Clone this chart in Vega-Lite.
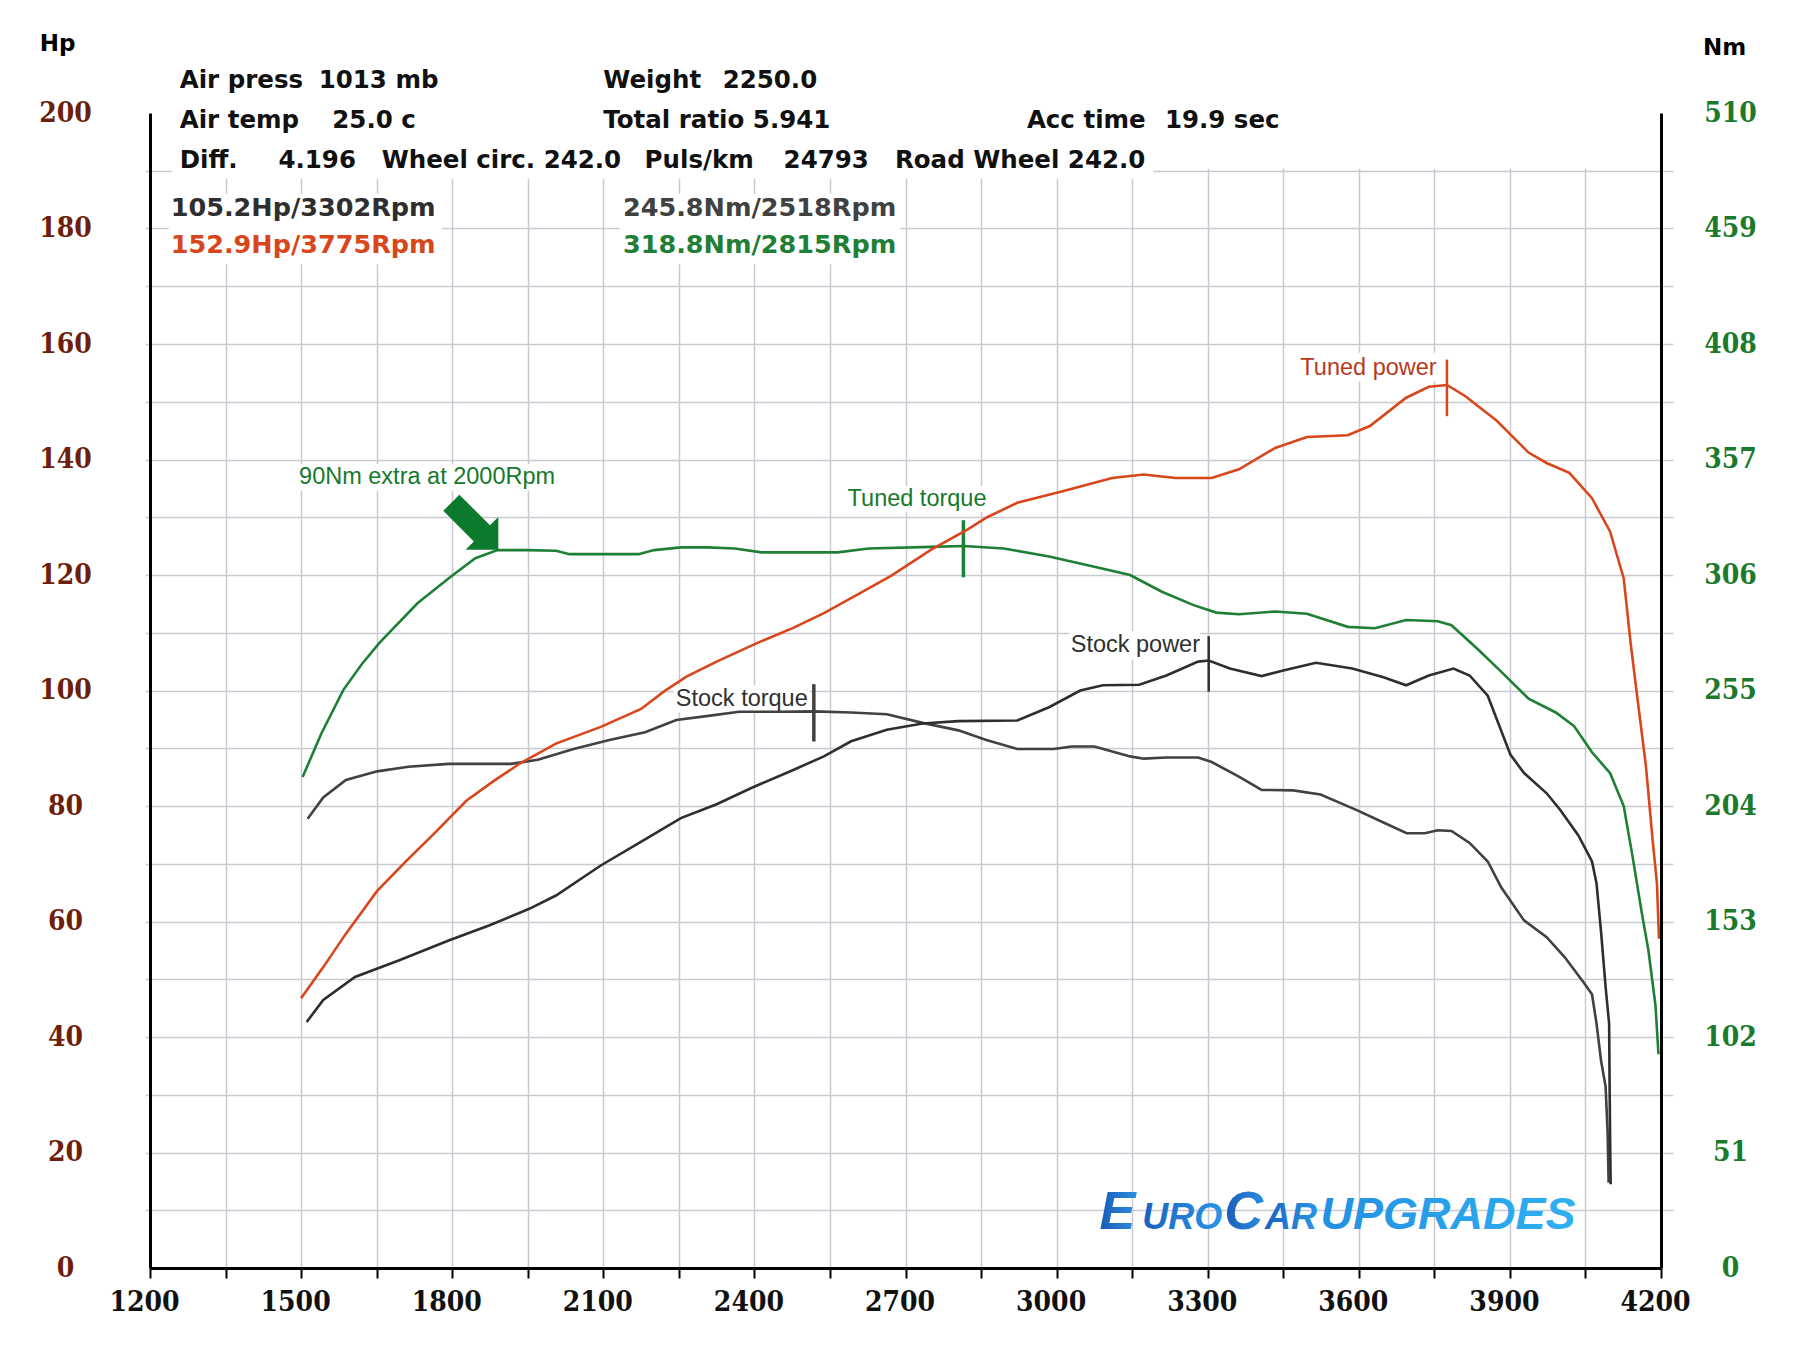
{
  "$schema": "https://vega.github.io/schema/vega-lite/v6.json",
  "width": 1511,
  "height": 1155,
  "autosize": "none",
  "padding": {"left": 150, "top": 113, "right": 139, "bottom": 84},
  "background": "#ffffff",
  "config": {"view": {"stroke": null}},
  "datasets": {
    "boxes": [
      {"rpm": 1200, "rpm2": 4200, "hp": 190.35, "hp2": 200},
      {"rpm": 1243, "rpm2": 3192, "hp": 188.6, "hp2": 200},
      {"rpm": 1237, "rpm2": 1779, "hp": 173.8, "hp2": 186},
      {"rpm": 2132, "rpm2": 2690, "hp": 173.8, "hp2": 186},
      {"rpm": 3480, "rpm2": 3757, "hp": 153.5, "hp2": 158.5},
      {"rpm": 3025, "rpm2": 3285, "hp": 105.3, "hp2": 110.3},
      {"rpm": 2240, "rpm2": 2510, "hp": 96.2, "hp2": 100.9},
      {"rpm": 2582, "rpm2": 2866, "hp": 130.9, "hp2": 135.4},
      {"rpm": 1493, "rpm2": 2012, "hp": 134.6, "hp2": 139.2}
    ],
    "power": [
      {"series": "Tuned power", "rpm": 1500, "hp": 46.7},
      {"series": "Tuned power", "rpm": 1544, "hp": 52.1},
      {"series": "Tuned power", "rpm": 1589, "hp": 57.9},
      {"series": "Tuned power", "rpm": 1651, "hp": 65.3},
      {"series": "Tuned power", "rpm": 1709, "hp": 70.5},
      {"series": "Tuned power", "rpm": 1766, "hp": 75.4},
      {"series": "Tuned power", "rpm": 1828, "hp": 80.9},
      {"series": "Tuned power", "rpm": 1882, "hp": 84.3},
      {"series": "Tuned power", "rpm": 1935, "hp": 87.4},
      {"series": "Tuned power", "rpm": 2006, "hp": 90.8},
      {"series": "Tuned power", "rpm": 2095, "hp": 93.7},
      {"series": "Tuned power", "rpm": 2175, "hp": 96.8},
      {"series": "Tuned power", "rpm": 2220, "hp": 99.8},
      {"series": "Tuned power", "rpm": 2265, "hp": 102.4},
      {"series": "Tuned power", "rpm": 2325, "hp": 105.0},
      {"series": "Tuned power", "rpm": 2405, "hp": 108.2},
      {"series": "Tuned power", "rpm": 2476, "hp": 110.8},
      {"series": "Tuned power", "rpm": 2538, "hp": 113.4},
      {"series": "Tuned power", "rpm": 2609, "hp": 116.8},
      {"series": "Tuned power", "rpm": 2672, "hp": 119.9},
      {"series": "Tuned power", "rpm": 2751, "hp": 124.4},
      {"series": "Tuned power", "rpm": 2822, "hp": 127.8},
      {"series": "Tuned power", "rpm": 2862, "hp": 130.0},
      {"series": "Tuned power", "rpm": 2922, "hp": 132.5},
      {"series": "Tuned power", "rpm": 3012, "hp": 134.5},
      {"series": "Tuned power", "rpm": 3110, "hp": 136.8},
      {"series": "Tuned power", "rpm": 3173, "hp": 137.4},
      {"series": "Tuned power", "rpm": 3236, "hp": 136.8},
      {"series": "Tuned power", "rpm": 3308, "hp": 136.8},
      {"series": "Tuned power", "rpm": 3362, "hp": 138.3},
      {"series": "Tuned power", "rpm": 3434, "hp": 142.0},
      {"series": "Tuned power", "rpm": 3497, "hp": 143.9},
      {"series": "Tuned power", "rpm": 3578, "hp": 144.2},
      {"series": "Tuned power", "rpm": 3622, "hp": 145.8},
      {"series": "Tuned power", "rpm": 3694, "hp": 150.7},
      {"series": "Tuned power", "rpm": 3739, "hp": 152.6},
      {"series": "Tuned power", "rpm": 3775, "hp": 152.9},
      {"series": "Tuned power", "rpm": 3811, "hp": 151.0},
      {"series": "Tuned power", "rpm": 3874, "hp": 146.7},
      {"series": "Tuned power", "rpm": 3937, "hp": 141.2},
      {"series": "Tuned power", "rpm": 3973, "hp": 139.4},
      {"series": "Tuned power", "rpm": 4018, "hp": 137.7},
      {"series": "Tuned power", "rpm": 4063, "hp": 133.3},
      {"series": "Tuned power", "rpm": 4099, "hp": 127.5},
      {"series": "Tuned power", "rpm": 4126, "hp": 119.4},
      {"series": "Tuned power", "rpm": 4140, "hp": 108.0},
      {"series": "Tuned power", "rpm": 4152, "hp": 99.5},
      {"series": "Tuned power", "rpm": 4170, "hp": 87.0},
      {"series": "Tuned power", "rpm": 4183, "hp": 74.5},
      {"series": "Tuned power", "rpm": 4192, "hp": 66.5},
      {"series": "Tuned power", "rpm": 4196, "hp": 57.0},
      {"series": "Stock power", "rpm": 1511, "hp": 42.6},
      {"series": "Stock power", "rpm": 1544, "hp": 46.4},
      {"series": "Stock power", "rpm": 1607, "hp": 50.4},
      {"series": "Stock power", "rpm": 1695, "hp": 53.3},
      {"series": "Stock power", "rpm": 1793, "hp": 56.7},
      {"series": "Stock power", "rpm": 1873, "hp": 59.3},
      {"series": "Stock power", "rpm": 1953, "hp": 62.2},
      {"series": "Stock power", "rpm": 2006, "hp": 64.5},
      {"series": "Stock power", "rpm": 2095, "hp": 69.7},
      {"series": "Stock power", "rpm": 2183, "hp": 74.2},
      {"series": "Stock power", "rpm": 2254, "hp": 77.9},
      {"series": "Stock power", "rpm": 2325, "hp": 80.3},
      {"series": "Stock power", "rpm": 2396, "hp": 83.2},
      {"series": "Stock power", "rpm": 2476, "hp": 86.2},
      {"series": "Stock power", "rpm": 2538, "hp": 88.6},
      {"series": "Stock power", "rpm": 2592, "hp": 91.2},
      {"series": "Stock power", "rpm": 2663, "hp": 93.2},
      {"series": "Stock power", "rpm": 2734, "hp": 94.3},
      {"series": "Stock power", "rpm": 2805, "hp": 94.7},
      {"series": "Stock power", "rpm": 2922, "hp": 94.8},
      {"series": "Stock power", "rpm": 2985, "hp": 97.1},
      {"series": "Stock power", "rpm": 3047, "hp": 100.0},
      {"series": "Stock power", "rpm": 3092, "hp": 100.9},
      {"series": "Stock power", "rpm": 3164, "hp": 101.0},
      {"series": "Stock power", "rpm": 3218, "hp": 102.6},
      {"series": "Stock power", "rpm": 3281, "hp": 105.0},
      {"series": "Stock power", "rpm": 3302, "hp": 105.2},
      {"series": "Stock power", "rpm": 3344, "hp": 103.8},
      {"series": "Stock power", "rpm": 3407, "hp": 102.5},
      {"series": "Stock power", "rpm": 3452, "hp": 103.5},
      {"series": "Stock power", "rpm": 3515, "hp": 104.8},
      {"series": "Stock power", "rpm": 3587, "hp": 103.8},
      {"series": "Stock power", "rpm": 3649, "hp": 102.3},
      {"series": "Stock power", "rpm": 3694, "hp": 100.9},
      {"series": "Stock power", "rpm": 3739, "hp": 102.6},
      {"series": "Stock power", "rpm": 3788, "hp": 103.8},
      {"series": "Stock power", "rpm": 3820, "hp": 102.6},
      {"series": "Stock power", "rpm": 3856, "hp": 99.1},
      {"series": "Stock power", "rpm": 3901, "hp": 88.9},
      {"series": "Stock power", "rpm": 3928, "hp": 85.7},
      {"series": "Stock power", "rpm": 3973, "hp": 82.2},
      {"series": "Stock power", "rpm": 4000, "hp": 79.3},
      {"series": "Stock power", "rpm": 4036, "hp": 74.9},
      {"series": "Stock power", "rpm": 4063, "hp": 70.4},
      {"series": "Stock power", "rpm": 4072, "hp": 66.6},
      {"series": "Stock power", "rpm": 4081, "hp": 58.2},
      {"series": "Stock power", "rpm": 4090, "hp": 48.7},
      {"series": "Stock power", "rpm": 4097, "hp": 42.3},
      {"series": "Stock power", "rpm": 4098, "hp": 31.4},
      {"series": "Stock power", "rpm": 4099, "hp": 22.0},
      {"series": "Stock power", "rpm": 4100, "hp": 14.5}
    ],
    "torque": [
      {"series": "Tuned torque", "rpm": 1503, "nm": 216.8},
      {"series": "Tuned torque", "rpm": 1540, "nm": 235.9},
      {"series": "Tuned torque", "rpm": 1584, "nm": 255.3},
      {"series": "Tuned torque", "rpm": 1620, "nm": 266.5},
      {"series": "Tuned torque", "rpm": 1655, "nm": 275.9},
      {"series": "Tuned torque", "rpm": 1731, "nm": 293.5},
      {"series": "Tuned torque", "rpm": 1797, "nm": 305.2},
      {"series": "Tuned torque", "rpm": 1846, "nm": 313.4},
      {"series": "Tuned torque", "rpm": 1890, "nm": 317.0},
      {"series": "Tuned torque", "rpm": 1950, "nm": 317.0},
      {"series": "Tuned torque", "rpm": 2006, "nm": 316.7},
      {"series": "Tuned torque", "rpm": 2033, "nm": 315.2},
      {"series": "Tuned torque", "rpm": 2170, "nm": 315.2},
      {"series": "Tuned torque", "rpm": 2201, "nm": 317.0},
      {"series": "Tuned torque", "rpm": 2254, "nm": 318.2},
      {"series": "Tuned torque", "rpm": 2308, "nm": 318.2},
      {"series": "Tuned torque", "rpm": 2361, "nm": 317.7},
      {"series": "Tuned torque", "rpm": 2414, "nm": 316.0},
      {"series": "Tuned torque", "rpm": 2565, "nm": 316.0},
      {"series": "Tuned torque", "rpm": 2627, "nm": 317.7},
      {"series": "Tuned torque", "rpm": 2751, "nm": 318.4},
      {"series": "Tuned torque", "rpm": 2815, "nm": 318.8},
      {"series": "Tuned torque", "rpm": 2895, "nm": 317.7},
      {"series": "Tuned torque", "rpm": 2985, "nm": 314.2},
      {"series": "Tuned torque", "rpm": 3075, "nm": 309.6},
      {"series": "Tuned torque", "rpm": 3146, "nm": 306.0},
      {"series": "Tuned torque", "rpm": 3209, "nm": 298.6},
      {"series": "Tuned torque", "rpm": 3272, "nm": 292.7},
      {"series": "Tuned torque", "rpm": 3317, "nm": 289.4},
      {"series": "Tuned torque", "rpm": 3362, "nm": 288.7},
      {"series": "Tuned torque", "rpm": 3434, "nm": 289.9},
      {"series": "Tuned torque", "rpm": 3497, "nm": 288.9},
      {"series": "Tuned torque", "rpm": 3578, "nm": 283.1},
      {"series": "Tuned torque", "rpm": 3632, "nm": 282.5},
      {"series": "Tuned torque", "rpm": 3694, "nm": 286.1},
      {"series": "Tuned torque", "rpm": 3757, "nm": 285.6},
      {"series": "Tuned torque", "rpm": 3784, "nm": 283.8},
      {"series": "Tuned torque", "rpm": 3838, "nm": 272.9},
      {"series": "Tuned torque", "rpm": 3883, "nm": 263.2},
      {"series": "Tuned torque", "rpm": 3937, "nm": 251.4},
      {"series": "Tuned torque", "rpm": 3991, "nm": 245.3},
      {"series": "Tuned torque", "rpm": 4027, "nm": 239.4},
      {"series": "Tuned torque", "rpm": 4063, "nm": 227.7},
      {"series": "Tuned torque", "rpm": 4099, "nm": 218.5},
      {"series": "Tuned torque", "rpm": 4126, "nm": 204.0},
      {"series": "Tuned torque", "rpm": 4144, "nm": 181.1},
      {"series": "Tuned torque", "rpm": 4162, "nm": 156.6},
      {"series": "Tuned torque", "rpm": 4175, "nm": 140.3},
      {"series": "Tuned torque", "rpm": 4189, "nm": 116.0},
      {"series": "Tuned torque", "rpm": 4195, "nm": 94.4},
      {"series": "Stock torque", "rpm": 1513, "nm": 198.4},
      {"series": "Stock torque", "rpm": 1544, "nm": 207.8},
      {"series": "Stock torque", "rpm": 1589, "nm": 215.5},
      {"series": "Stock torque", "rpm": 1651, "nm": 219.3},
      {"series": "Stock torque", "rpm": 1713, "nm": 221.3},
      {"series": "Stock torque", "rpm": 1793, "nm": 222.6},
      {"series": "Stock torque", "rpm": 1917, "nm": 222.6},
      {"series": "Stock torque", "rpm": 1970, "nm": 224.4},
      {"series": "Stock torque", "rpm": 2041, "nm": 229.2},
      {"series": "Stock torque", "rpm": 2112, "nm": 233.1},
      {"series": "Stock torque", "rpm": 2183, "nm": 236.6},
      {"series": "Stock torque", "rpm": 2245, "nm": 242.0},
      {"series": "Stock torque", "rpm": 2316, "nm": 244.0},
      {"series": "Stock torque", "rpm": 2370, "nm": 245.6},
      {"series": "Stock torque", "rpm": 2450, "nm": 245.6},
      {"series": "Stock torque", "rpm": 2518, "nm": 245.8},
      {"series": "Stock torque", "rpm": 2592, "nm": 245.3},
      {"series": "Stock torque", "rpm": 2663, "nm": 244.5},
      {"series": "Stock torque", "rpm": 2734, "nm": 240.7},
      {"series": "Stock torque", "rpm": 2805, "nm": 237.4},
      {"series": "Stock torque", "rpm": 2859, "nm": 233.3},
      {"series": "Stock torque", "rpm": 2922, "nm": 229.2},
      {"series": "Stock torque", "rpm": 2994, "nm": 229.2},
      {"series": "Stock torque", "rpm": 3030, "nm": 230.3},
      {"series": "Stock torque", "rpm": 3075, "nm": 230.3},
      {"series": "Stock torque", "rpm": 3146, "nm": 225.9},
      {"series": "Stock torque", "rpm": 3173, "nm": 224.9},
      {"series": "Stock torque", "rpm": 3218, "nm": 225.4},
      {"series": "Stock torque", "rpm": 3281, "nm": 225.4},
      {"series": "Stock torque", "rpm": 3308, "nm": 223.4},
      {"series": "Stock torque", "rpm": 3362, "nm": 217.0},
      {"series": "Stock torque", "rpm": 3407, "nm": 211.1},
      {"series": "Stock torque", "rpm": 3470, "nm": 210.9},
      {"series": "Stock torque", "rpm": 3524, "nm": 209.1},
      {"series": "Stock torque", "rpm": 3596, "nm": 202.2},
      {"series": "Stock torque", "rpm": 3650, "nm": 196.6},
      {"series": "Stock torque", "rpm": 3695, "nm": 192.0},
      {"series": "Stock torque", "rpm": 3731, "nm": 192.0},
      {"series": "Stock torque", "rpm": 3757, "nm": 193.3},
      {"series": "Stock torque", "rpm": 3784, "nm": 193.0},
      {"series": "Stock torque", "rpm": 3820, "nm": 187.7},
      {"series": "Stock torque", "rpm": 3856, "nm": 179.5},
      {"series": "Stock torque", "rpm": 3883, "nm": 168.0},
      {"series": "Stock torque", "rpm": 3928, "nm": 153.5},
      {"series": "Stock torque", "rpm": 3973, "nm": 146.1},
      {"series": "Stock torque", "rpm": 4009, "nm": 137.2},
      {"series": "Stock torque", "rpm": 4045, "nm": 126.5},
      {"series": "Stock torque", "rpm": 4063, "nm": 120.9},
      {"series": "Stock torque", "rpm": 4072, "nm": 107.9},
      {"series": "Stock torque", "rpm": 4081, "nm": 91.5},
      {"series": "Stock torque", "rpm": 4090, "nm": 80.1},
      {"series": "Stock torque", "rpm": 4094, "nm": 60.0},
      {"series": "Stock torque", "rpm": 4096, "nm": 37.7}
    ],
    "powerPeaks": [
      {"series": "Tuned power", "rpm": 3775, "hp": 147.5, "hp2": 157.3},
      {"series": "Stock power", "rpm": 3302, "hp": 99.8, "hp2": 109.4}
    ],
    "torquePeaks": [
      {"series": "Tuned torque", "rpm": 2815, "nm": 305.0, "nm2": 330.2},
      {"series": "Stock torque", "rpm": 2518, "nm": 232.5, "nm2": 257.8}
    ],
    "header": [
      {"rpm": 1259, "hp": 205.6, "label": "Air press"},
      {"rpm": 1535, "hp": 205.6, "label": "1013 mb"},
      {"rpm": 2100, "hp": 205.6, "label": "Weight"},
      {"rpm": 2337, "hp": 205.6, "label": "2250.0"},
      {"rpm": 1259, "hp": 198.7, "label": "Air temp"},
      {"rpm": 1562, "hp": 198.7, "label": "25.0 c"},
      {"rpm": 2100, "hp": 198.7, "label": "Total ratio 5.941"},
      {"rpm": 2941, "hp": 198.7, "label": "Acc time"},
      {"rpm": 3215, "hp": 198.7, "label": "19.9 sec"},
      {"rpm": 1259, "hp": 191.7, "label": "Diff."},
      {"rpm": 1455, "hp": 191.7, "label": "4.196"},
      {"rpm": 1660, "hp": 191.7, "label": "Wheel circ. 242.0"},
      {"rpm": 2182, "hp": 191.7, "label": "Puls/km"},
      {"rpm": 2458, "hp": 191.7, "label": "24793"},
      {"rpm": 2679, "hp": 191.7, "label": "Road Wheel 242.0"}
    ],
    "peakLabels": [
      {"series": "Stock power", "rpm": 1241, "hp": 183.6, "label": "105.2Hp/3302Rpm"},
      {"series": "Tuned power", "rpm": 1241, "hp": 177.2, "label": "152.9Hp/3775Rpm"},
      {"series": "Stock torque", "rpm": 2139, "hp": 183.6, "label": "245.8Nm/2518Rpm"},
      {"series": "Tuned torque", "rpm": 2139, "hp": 177.2, "label": "318.8Nm/2815Rpm"}
    ],
    "notes": [
      {"series": "Tuned power", "rpm": 3484, "hp": 155.9, "label": "Tuned power"},
      {"series": "Stock power", "rpm": 3028, "hp": 107.8, "label": "Stock power"},
      {"series": "Stock torque", "rpm": 2244, "hp": 98.5, "label": "Stock torque"},
      {"series": "Tuned torque", "rpm": 2585, "hp": 133.1, "label": "Tuned torque"},
      {"series": "Tuned torque", "rpm": 1496, "hp": 136.9, "label": "90Nm extra at 2000Rpm"}
    ],
    "arrow": [{"rpm": 1835, "hp": 129.3}],
    "logoCaps": [
      {"rpm": 3085, "hp": 6.7, "label": "E"},
      {"rpm": 3333, "hp": 6.7, "label": "C"}
    ],
    "logoSmall": [
      {"rpm": 3170, "hp": 6.7, "label": "URO"},
      {"rpm": 3414, "hp": 6.7, "label": "AR"}
    ],
    "logoTail": [
      {"rpm": 3524, "hp": 6.7, "label": "UPGRADES"}
    ]
  },
  "layer": [
    {
      "data": {"name": "boxes"},
      "mark": {"type": "rect", "fill": "#ffffff", "stroke": null},
      "encoding": {
        "x": {
          "field": "rpm", "type": "quantitative",
          "scale": {"domain": [1200, 4200], "nice": false, "zero": false},
          "axis": {
            "orient": "bottom", "zindex": 0, "title": null,
            "values": [1350, 1500, 1650, 1800, 1950, 2100, 2250, 2400, 2550, 2700, 2850, 3000, 3150, 3300, 3450, 3600, 3750, 3900, 4050],
            "grid": true, "gridColor": "#c9c9d2", "gridWidth": 1.5,
            "domain": false, "ticks": false, "labels": false
          }
        },
        "x2": {"field": "rpm2"},
        "y": {
          "field": "hp", "type": "quantitative",
          "scale": {"domain": [0, 200], "nice": false, "zero": true},
          "axis": {
            "orient": "left", "zindex": 0, "title": null,
            "values": [10, 20, 30, 40, 50, 60, 70, 80, 90, 100, 110, 120, 130, 140, 150, 160, 170, 180, 190],
            "grid": true, "gridColor": "#c9c9d2", "gridWidth": 1.5,
            "domain": false, "ticks": true, "tickColor": "#c9c9d2", "tickWidth": 1.5, "tickSize": 5,
            "labels": false
          }
        },
        "y2": {"field": "hp2"}
      }
    },
    {
      "encoding": {
        "x": {
          "field": "rpm", "type": "quantitative",
          "scale": {"domain": [1200, 4200], "nice": false, "zero": false},
          "axis": null
        },
        "y": {
          "field": "nm", "type": "quantitative",
          "scale": {"domain": [0, 510], "nice": false, "zero": true},
          "axis": {
            "orient": "right", "zindex": 1,
            "values": [0, 25.5, 51, 76.5, 102, 127.5, 153, 178.5, 204, 229.5, 255, 280.5, 306, 331.5, 357, 382.5, 408, 433.5, 459, 484.5, 510],
            "grid": false,
            "domain": true, "domainColor": "#000000", "domainWidth": 3,
            "ticks": true, "tickColor": "#c9c9d2", "tickWidth": 1.5, "tickSize": 12,
            "tickOpacity": {"condition": {"test": "datum.value === 0 || datum.value === 510", "value": 0}, "value": 1},
            "labelExpr": "datum.value % 51 === 0 ? format(datum.value, 'd') : ''",
            "labelFont": "'DejaVu Serif Condensed', 'DejaVu Serif', serif",
            "labelFontSize": 28, "labelFontWeight": "bold", "labelColor": "#1b7a2b",
            "labelAlign": "center", "labelBaseline": "middle", "labelPadding": 57,
            "labelFlush": false, "labelOverlap": false,
            "title": "Nm", "titleAngle": 0, "titleX": 63, "titleY": -66,
            "titleAlign": "center", "titleBaseline": "middle",
            "titleFont": "DejaVu Sans", "titleFontSize": 23, "titleFontWeight": "bold", "titleColor": "#000000"
          }
        }
      },
      "layer": [
        {
          "data": {"name": "torque"},
          "mark": {"type": "line", "strokeWidth": 2.6},
          "encoding": {
            "color": {
              "field": "series", "type": "nominal", "legend": null,
              "scale": {"domain": ["Tuned power", "Tuned torque", "Stock power", "Stock torque"], "range": ["#d8461b", "#1f7f35", "#2e2e2e", "#414141"]}
            }
          }
        },
        {
          "data": {"name": "torquePeaks"},
          "mark": {"type": "rule", "strokeWidth": 3.5},
          "encoding": {
            "y2": {"field": "nm2"},
            "color": {
              "field": "series", "type": "nominal", "legend": null,
              "scale": {"domain": ["Tuned power", "Tuned torque", "Stock power", "Stock torque"], "range": ["#d8461b", "#1f7f35", "#2e2e2e", "#414141"]}
            }
          }
        }
      ]
    },
    {
      "encoding": {
        "x": {
          "field": "rpm", "type": "quantitative",
          "scale": {"domain": [1200, 4200], "nice": false, "zero": false},
          "axis": {
            "orient": "bottom", "zindex": 1, "title": null, "format": "d",
            "values": [1200, 1350, 1500, 1650, 1800, 1950, 2100, 2250, 2400, 2550, 2700, 2850, 3000, 3150, 3300, 3450, 3600, 3750, 3900, 4050, 4200],
            "grid": false,
            "domain": true, "domainColor": "#000000", "domainWidth": 3,
            "ticks": true, "tickColor": "#000000", "tickWidth": 2, "tickSize": 10,
            "labelExpr": "datum.value % 300 === 0 ? datum.label : ''",
            "labelFont": "'DejaVu Serif Condensed', 'DejaVu Serif', serif",
            "labelFontSize": 28, "labelFontWeight": "bold", "labelColor": "#111111",
            "labelPadding": 10, "labelOffset": -6,
            "labelFlush": false, "labelOverlap": false
          }
        },
        "y": {
          "field": "hp", "type": "quantitative",
          "scale": {"domain": [0, 200], "nice": false, "zero": true},
          "axis": {
            "orient": "left", "zindex": 1,
            "values": [0, 20, 40, 60, 80, 100, 120, 140, 160, 180, 200],
            "grid": false,
            "domain": true, "domainColor": "#000000", "domainWidth": 3,
            "ticks": true, "tickSize": 0, "tickOpacity": 0,
            "labelFont": "'DejaVu Serif Condensed', 'DejaVu Serif', serif",
            "labelFontSize": 28, "labelFontWeight": "bold", "labelColor": "#6e1f0c",
            "labelAlign": "center", "labelBaseline": "middle", "labelPadding": 85,
            "labelFlush": false, "labelOverlap": false,
            "title": "Hp", "titleAngle": 0, "titleX": -93, "titleY": -70,
            "titleAlign": "center", "titleBaseline": "middle",
            "titleFont": "DejaVu Sans", "titleFontSize": 23, "titleFontWeight": "bold", "titleColor": "#000000"
          }
        }
      },
      "layer": [
        {
          "data": {"name": "power"},
          "mark": {"type": "line", "strokeWidth": 2.6},
          "encoding": {
            "color": {
              "field": "series", "type": "nominal", "legend": null,
              "scale": {"domain": ["Tuned power", "Tuned torque", "Stock power", "Stock torque"], "range": ["#d8461b", "#1f7f35", "#2e2e2e", "#414141"]}
            }
          }
        },
        {
          "data": {"name": "powerPeaks"},
          "mark": {"type": "rule", "strokeWidth": 2.5},
          "encoding": {
            "y2": {"field": "hp2"},
            "color": {
              "field": "series", "type": "nominal", "legend": null,
              "scale": {"domain": ["Tuned power", "Tuned torque", "Stock power", "Stock torque"], "range": ["#d8461b", "#1f7f35", "#2e2e2e", "#414141"]}
            }
          }
        },
        {
          "data": {"name": "arrow"},
          "mark": {
            "type": "point", "filled": true, "color": "#0c7a2c", "opacity": 1, "strokeWidth": 0,
            "size": 3249,
            "shape": "M1,1L1,-0.15L0.708,0.142L-0.367,-0.933L-0.933,-0.367L0.142,0.708L-0.15,1Z"
          }
        },
        {
          "data": {"name": "header"},
          "mark": {"type": "text", "align": "left", "baseline": "middle", "font": "DejaVu Sans", "fontSize": 24.5, "fontWeight": "bold", "color": "#111111"},
          "encoding": {"text": {"field": "label"}}
        },
        {
          "data": {"name": "peakLabels"},
          "mark": {"type": "text", "align": "left", "baseline": "middle", "font": "DejaVu Sans", "fontSize": 25.5, "fontWeight": "bold"},
          "encoding": {
            "text": {"field": "label"},
            "color": {
              "field": "series", "type": "nominal", "legend": null,
              "scale": {"domain": ["Tuned power", "Tuned torque", "Stock power", "Stock torque"], "range": ["#d8461b", "#1f7f35", "#2e2e2e", "#414141"]}
            }
          }
        },
        {
          "data": {"name": "notes"},
          "mark": {"type": "text", "align": "left", "baseline": "middle", "font": "'Liberation Sans', Arial, sans-serif", "fontSize": 23.5},
          "encoding": {
            "text": {"field": "label"},
            "fill": {
              "field": "series", "type": "nominal", "legend": null,
              "scale": {"domain": ["Tuned power", "Tuned torque", "Stock power", "Stock torque"], "range": ["#b9391b", "#16792b", "#303030", "#303030"]}
            }
          }
        },
        {
          "data": {"name": "logoCaps"},
          "mark": {
            "type": "text", "align": "left", "baseline": "alphabetic", "font": "'Liberation Sans', Arial, sans-serif", "fontSize": 54, "fontWeight": "bold", "fontStyle": "italic",
            "fill": {"gradient": "linear", "x1": 0, "y1": 0, "x2": 1, "y2": 0, "stops": [{"offset": 0, "color": "#1a5cb8"}, {"offset": 1, "color": "#2a8fe0"}]}
          },
          "encoding": {"text": {"field": "label"}}
        },
        {
          "data": {"name": "logoSmall"},
          "mark": {
            "type": "text", "align": "left", "baseline": "alphabetic", "font": "'Liberation Sans', Arial, sans-serif", "fontSize": 36, "fontWeight": "bold", "fontStyle": "italic",
            "fill": {"gradient": "linear", "x1": 0, "y1": 0, "x2": 1, "y2": 0, "stops": [{"offset": 0, "color": "#1a62c0"}, {"offset": 1, "color": "#2a95e4"}]}
          },
          "encoding": {"text": {"field": "label"}}
        },
        {
          "data": {"name": "logoTail"},
          "mark": {
            "type": "text", "align": "left", "baseline": "alphabetic", "font": "'Liberation Sans', Arial, sans-serif", "fontSize": 45, "fontWeight": "bold", "fontStyle": "italic",
            "fill": {"gradient": "linear", "x1": 0, "y1": 0, "x2": 1, "y2": 0, "stops": [{"offset": 0, "color": "#2290e2"}, {"offset": 1, "color": "#2fb0f2"}]}
          },
          "encoding": {"text": {"field": "label"}}
        }
      ]
    }
  ],
  "resolve": {
    "scale": {"y": "independent"},
    "axis": {"x": "independent", "y": "independent"}
  }
}
